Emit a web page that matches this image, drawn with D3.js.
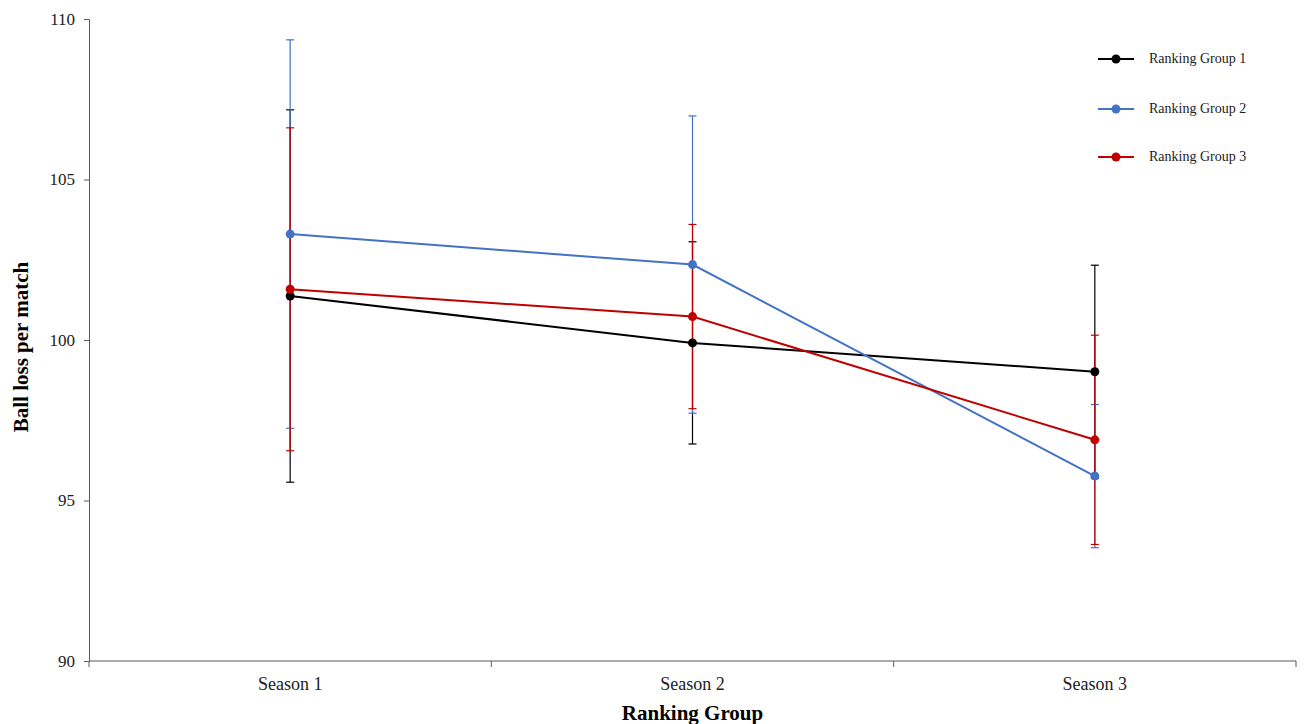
<!DOCTYPE html>
<html>
<head>
<meta charset="utf-8">
<script src="https://cdn.jsdelivr.net/npm/d3@7"></script>
<style>
  body { margin: 0; background: #fff; }
  svg { font-family: "Liberation Serif", "Times New Roman", serif; }
  .axis path, .axis line { stroke: #595959; }
  .axis text { fill: #222; font-family: "Liberation Serif", serif; }
</style>
</head>
<body>
<svg id="chart" width="1306" height="724"></svg>
<script>
var seasons = ["Season 1", "Season 2", "Season 3"];
var seriesNames = ["Ranking Group 1", "Ranking Group 2", "Ranking Group 3"];
var seriesColors = ["#000000", "#4472C4", "#C00000"];
var group1 = [101.37, 99.91, 99.01];
var group2 = [103.30, 102.35, 95.76];
var group3 = [101.58, 100.73, 96.89];
var group1Err = [5.8, 3.15, 3.32];
var group2Err = [6.05, 4.63, 2.23];
var group3Err = [5.03, 2.87, 3.26];
var yTicks = [90, 95, 100, 105, 110];

var values = [group1, group2, group3];
var errors = [group1Err, group2Err, group3Err];

var svg = d3.select("#chart");
var plotLeft = 89, plotRight = 1296, plotTop = 19, plotBottom = 661;

var xBand = d3.scaleBand().domain(seasons).range([plotLeft, plotRight]);
var x = function(s) { return xBand(s) + xBand.bandwidth() / 2; };
var y = d3.scaleLinear().domain([90, 110]).range([plotBottom, plotTop]);

// y axis
svg.append("g")
    .attr("class", "axis")
    .attr("transform", "translate(" + plotLeft + ",0)")
    .call(d3.axisLeft(y).tickValues(yTicks).tickSize(5).tickPadding(9).tickSizeOuter(0))
    .selectAll("text").attr("font-size", "17px");

// x axis, ticks at band boundaries
var xAxisG = svg.append("g")
    .attr("class", "axis")
    .attr("transform", "translate(0," + plotBottom + ")");
xAxisG.append("line")
    .attr("x1", plotLeft).attr("x2", plotRight)
    .attr("y1", 0).attr("y2", 0)
    .attr("stroke", "#404040");
var bounds = seasons.map(function(s) { return xBand(s); }).concat([plotRight]);
xAxisG.selectAll(".tk").data(bounds).enter().append("line")
    .attr("x1", function(d) { return d; }).attr("x2", function(d) { return d; })
    .attr("y1", 0).attr("y2", 6)
    .attr("stroke", "#404040");
xAxisG.selectAll(".lbl").data(seasons).enter().append("text")
    .attr("x", function(d) { return x(d); })
    .attr("y", 29)
    .attr("text-anchor", "middle")
    .attr("font-size", "18px")
    .text(function(d) { return d; });

// axis titles
svg.append("text")
    .attr("x", (plotLeft + plotRight) / 2)
    .attr("y", 720)
    .attr("text-anchor", "middle")
    .attr("font-size", "21px")
    .attr("font-weight", "bold")
    .text("Ranking Group");

svg.append("text")
    .attr("transform", "translate(28," + ((plotTop + plotBottom) / 2 + 7) + ") rotate(-90)")
    .attr("text-anchor", "middle")
    .attr("font-size", "21px")
    .attr("font-weight", "bold")
    .text("Ball loss per match");

// lines
var line = d3.line()
    .x(function(d, i) { return x(seasons[i]); })
    .y(function(d) { return y(d); });

values.forEach(function(vals, k) {
  svg.append("path")
      .datum(vals)
      .attr("fill", "none")
      .attr("stroke", seriesColors[k])
      .attr("stroke-width", 2)
      .attr("d", line);
});

// error bars
values.forEach(function(vals, k) {
  var g = svg.append("g").attr("stroke", seriesColors[k]).attr("stroke-width", 1.2);
  vals.forEach(function(v, i) {
    var cx = x(seasons[i]), e = errors[k][i];
    g.append("line").attr("x1", cx).attr("x2", cx)
        .attr("y1", y(v + e)).attr("y2", y(v - e));
    [v + e, v - e].forEach(function(ev) {
      g.append("line").attr("x1", cx - 4).attr("x2", cx + 4)
          .attr("y1", y(ev)).attr("y2", y(ev));
    });
  });
});

// markers
values.forEach(function(vals, k) {
  svg.selectAll(".m" + k).data(vals).enter().append("circle")
      .attr("cx", function(d, i) { return x(seasons[i]); })
      .attr("cy", function(d) { return y(d); })
      .attr("r", 4.5)
      .attr("fill", seriesColors[k]);
});

// legend
var legendY = [59, 109, 157];
var legend = svg.append("g");
seriesNames.forEach(function(name, k) {
  var gy = legendY[k];
  legend.append("line")
      .attr("x1", 1098).attr("x2", 1134)
      .attr("y1", gy).attr("y2", gy)
      .attr("stroke", seriesColors[k]).attr("stroke-width", 2);
  legend.append("circle")
      .attr("cx", 1116).attr("cy", gy).attr("r", 4.5)
      .attr("fill", seriesColors[k]);
  legend.append("text")
      .attr("x", 1149).attr("y", gy + 4)
      .attr("font-size", "14px")
      .attr("fill", "#222")
      .text(name);
});
</script>
</body>
</html>
